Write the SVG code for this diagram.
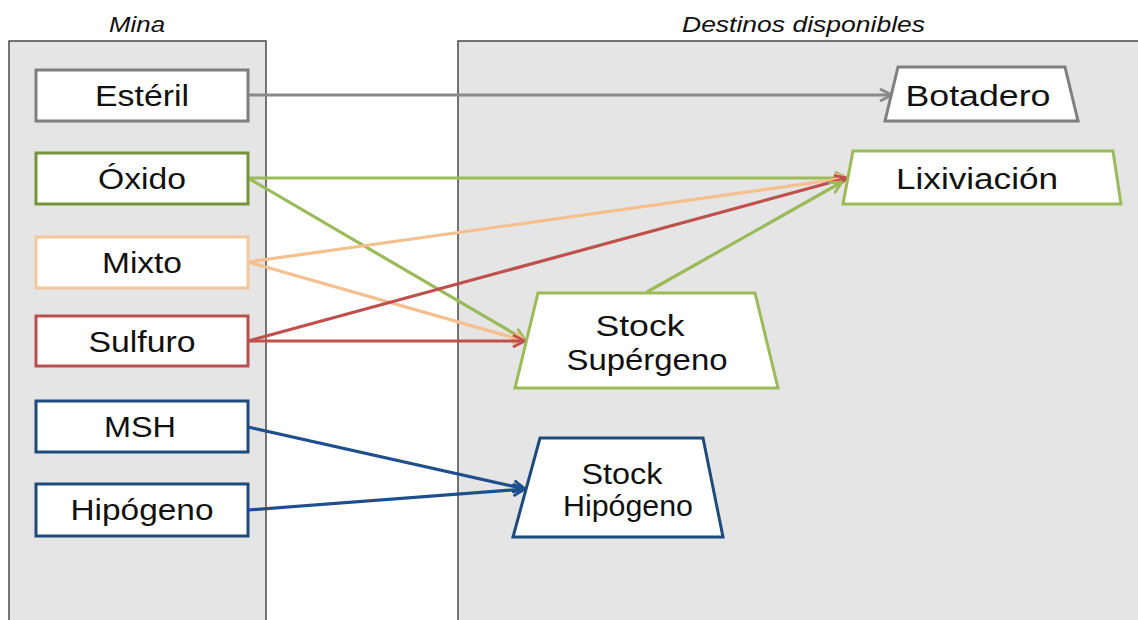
<svg xmlns="http://www.w3.org/2000/svg" width="1138" height="620" viewBox="0 0 1138 620">
<defs>
<style>
.panel{fill:#e5e5e5;stroke:#4a4a4a;stroke-width:1.5}
.hdr{font-family:"Liberation Sans",Arial,sans-serif;font-style:italic;font-size:22px;fill:#111}
.lbl{font-family:"Liberation Sans",Arial,sans-serif;font-size:30px;fill:#111;text-anchor:middle}
.box{fill:#fff;stroke-width:3}
.ln{fill:none;stroke-width:3.2}
</style>
<marker id="aGray" viewBox="0 0 14 14" refX="13" refY="7" markerWidth="14" markerHeight="14" markerUnits="userSpaceOnUse" orient="auto"><path d="M1,1 L13,7 L1,13" fill="none" stroke="#8a8a8a" stroke-width="2.8"/></marker>
<marker id="aGreen" viewBox="0 0 14 14" refX="13" refY="7" markerWidth="14" markerHeight="14" markerUnits="userSpaceOnUse" orient="auto"><path d="M1,1 L13,7 L1,13" fill="none" stroke="#9bbb59" stroke-width="2.8"/></marker>
<marker id="aOrange" viewBox="0 0 14 14" refX="13" refY="7" markerWidth="14" markerHeight="14" markerUnits="userSpaceOnUse" orient="auto"><path d="M1,1 L13,7 L1,13" fill="none" stroke="#f6bf8e" stroke-width="2.8"/></marker>
<marker id="aRed" viewBox="0 0 14 14" refX="13" refY="7" markerWidth="14" markerHeight="14" markerUnits="userSpaceOnUse" orient="auto"><path d="M1,1 L13,7 L1,13" fill="none" stroke="#c0504d" stroke-width="2.8"/></marker>
<marker id="aBlue" viewBox="0 0 14 14" refX="13" refY="7" markerWidth="14" markerHeight="14" markerUnits="userSpaceOnUse" orient="auto"><path d="M1,1 L13,7 L1,13" fill="none" stroke="#1f4e8c" stroke-width="2.8"/></marker>
</defs>
<rect width="1138" height="620" fill="#fff"/>
<g id="panel-mina">
<rect class="panel" x="9" y="41" width="257" height="600"/>
<text class="hdr" x="137" y="32" text-anchor="middle" textLength="56" lengthAdjust="spacingAndGlyphs">Mina</text>
</g>
<g id="panel-destinos">
<rect class="panel" x="458" y="41" width="700" height="600"/>
<text class="hdr" x="682" y="32" textLength="243" lengthAdjust="spacingAndGlyphs">Destinos disponibles</text>
</g>
<g id="connectors">
<line class="ln" x1="248" y1="95" x2="892" y2="95" stroke="#8a8a8a" marker-end="url(#aGray)"/>
<line class="ln" x1="248" y1="178" x2="847" y2="178" stroke="#9bbb59" marker-end="url(#aGreen)"/>
<line class="ln" x1="248" y1="178" x2="525" y2="340" stroke="#9bbb59" marker-end="url(#aGreen)"/>
<line class="ln" x1="248" y1="262" x2="847" y2="178" stroke="#f6bf8e" marker-end="url(#aOrange)"/>
<line class="ln" x1="248" y1="262" x2="525" y2="341" stroke="#f6bf8e" marker-end="url(#aOrange)"/>
<line class="ln" x1="248" y1="341" x2="847" y2="178" stroke="#c0504d" marker-end="url(#aRed)"/>
<line class="ln" x1="248" y1="341" x2="525" y2="341" stroke="#c0504d" marker-end="url(#aRed)"/>
<line class="ln" x1="647" y1="292" x2="842" y2="182" stroke="#9bbb59" marker-end="url(#aGreen)"/>
<line class="ln" x1="248" y1="427" x2="525" y2="489" stroke="#1f4e8c" marker-end="url(#aBlue)"/>
<line class="ln" x1="248" y1="510" x2="525" y2="489" stroke="#1f4e8c" marker-end="url(#aBlue)"/>
</g>
<g id="esteril">
<rect class="box" x="36" y="70" width="212" height="51" stroke="#7f7f7f"/>
<text class="lbl" x="142" y="106" textLength="94" lengthAdjust="spacingAndGlyphs">Estéril</text>
</g>
<g id="oxido">
<rect class="box" x="36" y="153" width="212" height="51" stroke="#77933c"/>
<text class="lbl" x="142" y="189" textLength="88" lengthAdjust="spacingAndGlyphs">Óxido</text>
</g>
<g id="mixto">
<rect class="box" x="36" y="237" width="212" height="51" stroke="#f6c79c"/>
<text class="lbl" x="142" y="273" textLength="80" lengthAdjust="spacingAndGlyphs">Mixto</text>
</g>
<g id="sulfuro">
<rect class="box" x="36" y="316" width="212" height="50" stroke="#b9504d"/>
<text class="lbl" x="142" y="352" textLength="107" lengthAdjust="spacingAndGlyphs">Sulfuro</text>
</g>
<g id="msh">
<rect class="box" x="36" y="401" width="212" height="51" stroke="#1f4a7c"/>
<text class="lbl" x="140" y="437" textLength="72" lengthAdjust="spacingAndGlyphs">MSH</text>
</g>
<g id="hipogeno">
<rect class="box" x="36" y="484" width="212" height="52" stroke="#1f4a7c"/>
<text class="lbl" x="142" y="520" textLength="143" lengthAdjust="spacingAndGlyphs">Hipógeno</text>
</g>
<g id="botadero">
<polygon class="box" points="898,67 1065,67 1078,121 885,121" stroke="#7f7f7f"/>
<text class="lbl" x="978" y="106" textLength="145" lengthAdjust="spacingAndGlyphs">Botadero</text>
</g>
<g id="lixiviacion">
<polygon class="box" points="853,151 1113,151 1121,204 843,204" stroke="#9bbb59"/>
<text class="lbl" x="977" y="189" textLength="162" lengthAdjust="spacingAndGlyphs">Lixiviación</text>
</g>
<g id="stock-supergeno">
<polygon class="box" points="538,293 755,293 778,388 515,388" stroke="#9bbb59"/>
<text class="lbl" x="640" y="336" textLength="89" lengthAdjust="spacingAndGlyphs">Stock</text>
<text class="lbl" x="647" y="370" textLength="161" lengthAdjust="spacingAndGlyphs">Supérgeno</text>
</g>
<g id="stock-hipogeno">
<polygon class="box" points="540,438 703,438 723,537 513,537" stroke="#1f4a7c"/>
<text class="lbl" x="622" y="484" font-size="28" textLength="81" lengthAdjust="spacingAndGlyphs">Stock</text>
<text class="lbl" x="628" y="516" font-size="28" textLength="130" lengthAdjust="spacingAndGlyphs">Hipógeno</text>
</g>
</svg>
